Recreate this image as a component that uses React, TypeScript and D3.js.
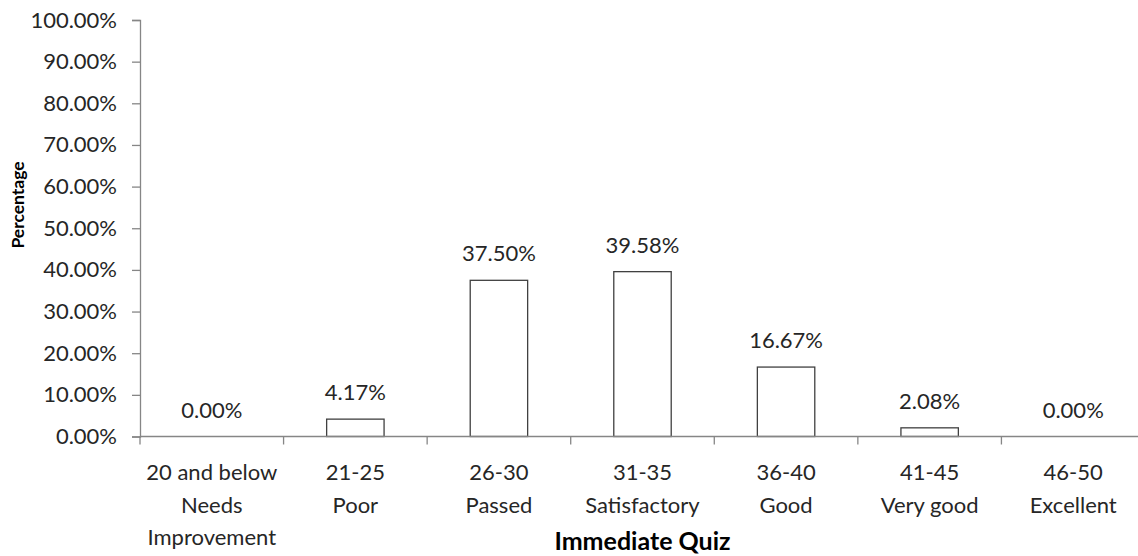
import React, { useEffect, useRef } from "react";
import * as d3 from "d3";

const settings = {
  width: 1138,
  height: 556,
  left: 140,
  right: 1145,
  top: 20,
  bottom: 436.5,
};

const categories: string[] = ["c1", "c2", "c3", "c4", "c5", "c6", "c7"];
const categoryLines: string[][] = [
  ["20 and below", "Needs", "Improvement"],
  ["21-25", "Poor"],
  ["26-30", "Passed"],
  ["31-35", "Satisfactory"],
  ["36-40", "Good"],
  ["41-45", "Very good"],
  ["46-50", "Excellent"],
];
const percentages: number[] = [0, 4.17, 37.5, 39.58, 16.67, 2.08, 0];
const yTicks: number[] = [0, 10, 20, 30, 40, 50, 60, 70, 80, 90, 100];

const textColor = "#262626";
const axisColor = "#868686";
const font = "Lato, 'Open Sans', sans-serif";

export default function App() {
  const svgRef = useRef(null);
  useEffect(() => {
    const svg = d3.select(svgRef.current);
    svg.selectAll("*").remove();

    const x = d3
      .scaleBand()
      .domain(categories)
      .range([settings.left, settings.right])
      .padding(0);

    const y = d3
      .scaleLinear()
      .domain([0, 100])
      .range([settings.bottom, settings.top]);

    const barW = x.bandwidth() * 0.4;

    // y axis
    const yAxis = svg
      .append("g")
      .attr("transform", `translate(${settings.left},0)`)
      .call(
        d3
          .axisLeft(y)
          .tickValues(yTicks)
          .tickSize(8)
          .tickPadding(15)
          .tickFormat((d) => `${(+d).toFixed(2)}%`)
      );
    yAxis.select(".domain").attr("stroke", axisColor).attr("stroke-width", 1.3);
    yAxis.selectAll(".tick line").attr("stroke", axisColor).attr("stroke-width", 1.3);
    yAxis
      .selectAll(".tick text")
      .attr("fill", textColor)
      .attr("font-family", font)
      .attr("font-size", 22);

    // bars
    svg
      .append("g")
      .selectAll("rect")
      .data(percentages)
      .join("rect")
      .attr("x", (_, i) => (x(categories[i]) || 0) + (x.bandwidth() - barW) / 2)
      .attr("y", (d) => y(d))
      .attr("width", barW)
      .attr("height", (d) => y(0) - y(d))
      .attr("fill", "#ffffff")
      .attr("stroke", "#404040")
      .attr("stroke-width", 1.3);

    // value labels
    svg
      .append("g")
      .selectAll("text")
      .data(percentages)
      .join("text")
      .attr("x", (_, i) => (x(categories[i]) || 0) + x.bandwidth() / 2)
      .attr("y", (d) => y(d) - 19)
      .attr("text-anchor", "middle")
      .attr("fill", textColor)
      .attr("font-family", font)
      .attr("font-size", 22)
      .text((d) => `${d.toFixed(2)}%`);

    // x axis
    const xAxis = svg.append("g");
    xAxis
      .append("line")
      .attr("x1", settings.left)
      .attr("x2", settings.right)
      .attr("y1", settings.bottom)
      .attr("y2", settings.bottom)
      .attr("stroke", axisColor)
      .attr("stroke-width", 1.3);
    xAxis
      .selectAll("line.tick")
      .data(categories)
      .join("line")
      .attr("class", "tick")
      .attr("x1", (d) => x(d) || 0)
      .attr("x2", (d) => x(d) || 0)
      .attr("y1", settings.bottom)
      .attr("y2", settings.bottom + 8)
      .attr("stroke", axisColor)
      .attr("stroke-width", 1.3);

    const labels = xAxis
      .selectAll("text")
      .data(categories)
      .join("text")
      .attr("text-anchor", "middle")
      .attr("fill", textColor)
      .attr("font-family", font)
      .attr("font-size", 22);
    labels.each(function (d, i) {
      const cx = (x(d) || 0) + x.bandwidth() / 2;
      d3.select(this)
        .selectAll("tspan")
        .data(categoryLines[i])
        .join("tspan")
        .attr("x", cx)
        .attr("y", (_, j) => 480 + j * 32.5)
        .text((t) => t);
    });

    // titles
    svg
      .append("text")
      .attr("x", (settings.left + settings.right) / 2)
      .attr("y", 550)
      .attr("text-anchor", "middle")
      .attr("fill", "#000")
      .attr("font-family", font)
      .attr("font-weight", "bold")
      .attr("font-size", 25)
      .text("Immediate Quiz");

    svg
      .append("text")
      .attr("transform", `translate(24,205) rotate(-90)`)
      .attr("text-anchor", "middle")
      .attr("fill", "#000")
      .attr("font-family", font)
      .attr("font-weight", "bold")
      .attr("font-size", 17.5)
      .text("Percentage");
  }, []);

  return (
    <svg
      style={{
        position: "absolute",
        left: 0,
        top: 0,
        width: settings.width,
        height: settings.height,
        background: "#fff",
      }}
      ref={svgRef}
    ></svg>
  );
}
